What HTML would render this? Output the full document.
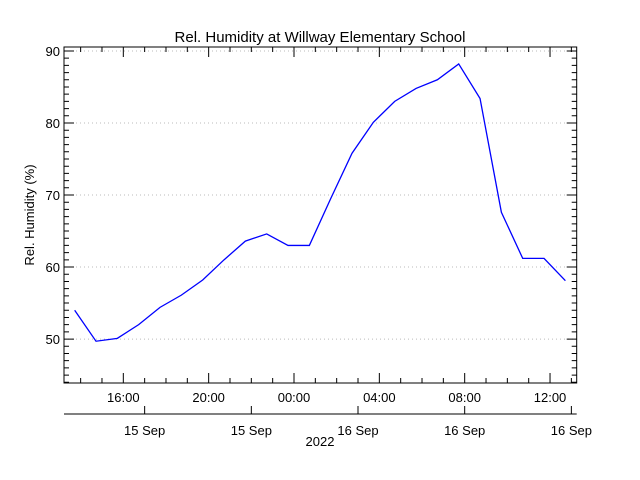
<!DOCTYPE html>
<html><head><meta charset="utf-8"><style>
body{margin:0;background:#fff}
svg{display:block;font-family:"Liberation Sans",sans-serif}
</style></head><body>
<svg id="chart" width="640" height="480" viewBox="0 0 640 480">
<rect width="640" height="480" fill="#fff"/>
<text x="320" y="42" text-anchor="middle" font-size="15">Rel. Humidity at Willway Elementary School</text>
<text transform="translate(34,215) rotate(-90)" text-anchor="middle" font-size="13">Rel. Humidity (%)</text>
<text x="320" y="446" text-anchor="middle" font-size="13">2022</text>
<g id="grid"></g><g id="axes"></g><g id="series"></g>
</svg>
<script>
const hours = [13.72,14.72,15.72,16.72,17.72,18.72,19.72,20.72,21.72,22.72,23.72,24.72,25.72,26.72,27.72,28.72,29.72,30.72,31.72,32.72,33.72,34.72,35.72,36.72];
const humidity = [54.0,49.7,50.1,52.0,54.4,56.1,58.2,61.0,63.6,64.6,63.0,63.0,69.5,75.8,80.1,83.0,84.8,86.0,88.2,83.4,67.6,61.2,61.2,58.1];
const yTicks = [50,60,70,80,90];
const xTickHours = [16,20,24,28,32,36];
const xTickLabels = ["16:00","20:00","00:00","04:00","08:00","12:00"];
const dateTickHours = [17,22,27,32,37];
const dateTickLabels = ["15 Sep","15 Sep","16 Sep","16 Sep","16 Sep"];

const L=64,R=576.7,T=47,B=383;
const xMin=13.22,xMax=37.25,yMin=43.9,yMax=90.55;
const X=h=>L+(h-xMin)/(xMax-xMin)*(R-L);
const Y=v=>B-(v-yMin)/(yMax-yMin)*(B-T);
const NS="http://www.w3.org/2000/svg";
function mk(tag,attrs,parent){const e=document.createElementNS(NS,tag);for(const k in attrs)e.setAttribute(k,attrs[k]);parent.appendChild(e);return e;}
const grid=document.getElementById('grid'),axes=document.getElementById('axes'),series=document.getElementById('series');

yTicks.forEach(v=>{
  const g=mk('line',{x1:L,x2:R,y1:Y(v),y2:Y(v),stroke:'#bbb','stroke-dasharray':'1,3'},grid);
  
  
  const t=mk('text',{x:L-4,y:Y(v)+5,'text-anchor':'end','font-size':'13'},axes);
  t.textContent=v;
  
  
});
const box=mk('rect',{x:L,y:T,width:R-L,height:B-T,fill:'none',stroke:'#000'},axes);


let p='';
for(let v=Math.ceil(yMin);v<=yMax;v++){
  const len=(v%10===0)?10:5,y=Y(v);
  p+=`M${L},${y}h${len}M${R},${y}h${-len}`;
}
for(let h=Math.ceil(xMin);h<=xMax;h++){
  const len=(h%4===0)?10:5,x=X(h);
  p+=`M${x},${B}v${-len}M${x},${T}v${len}`;
}
const ticks=mk('path',{d:p,stroke:'#000',fill:'none'},axes);


xTickHours.forEach((h,i)=>{
  const t=mk('text',{x:X(h),y:B+19,'text-anchor':'middle','font-size':'13'},axes);
  t.textContent=xTickLabels[i];
  
  
});
const dax=mk('line',{x1:L,x2:R,y1:414,y2:414,stroke:'#000'},axes);


dateTickHours.forEach((h,i)=>{
  const tk=mk('line',{x1:X(h),x2:X(h),y1:414,y2:406,stroke:'#000'},axes);
  
  
  const t=mk('text',{x:X(h),y:435,'text-anchor':'middle','font-size':'13'},axes);
  t.textContent=dateTickLabels[i];
  
  
});
const pts=hours.map((h,i)=>X(h)+','+Y(humidity[i])).join(' ');
const line=mk('polyline',{points:pts,fill:'none',stroke:'#0000ff','stroke-width':'1.3'},series);


</script>
</body></html>
